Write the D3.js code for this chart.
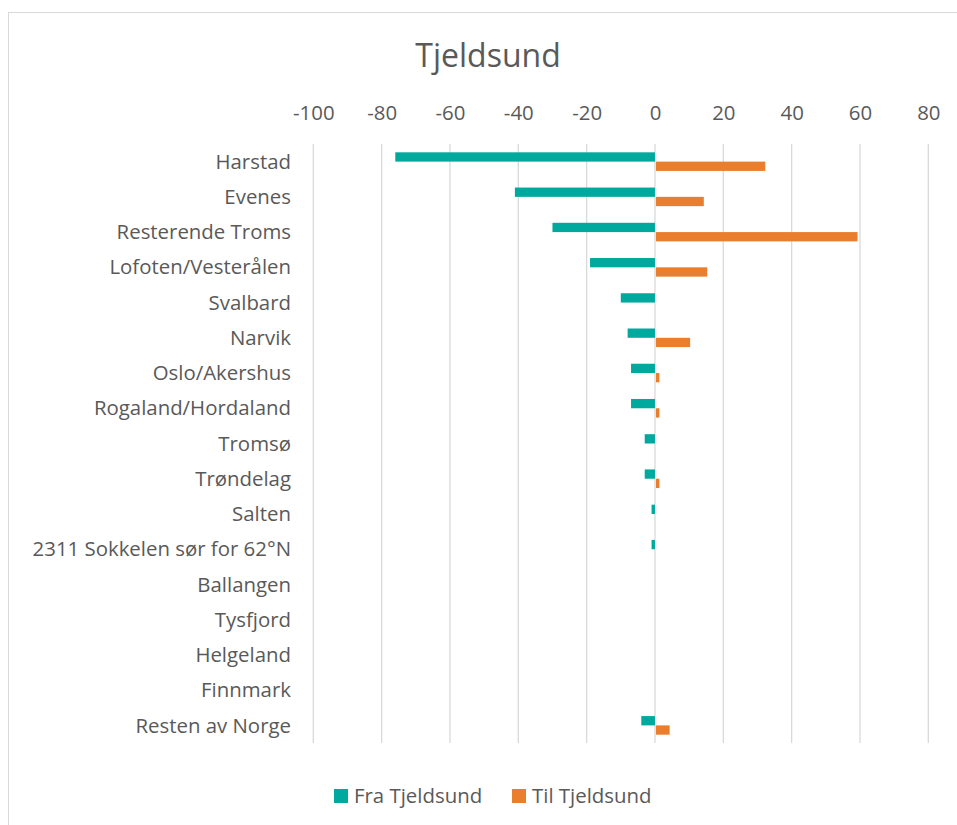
<!DOCTYPE html>
<meta charset="utf-8">
<style>
  body { margin: 0; background: #fff; }
  text { font-family: "Open Sans", sans-serif; fill: #595959; }
</style>
<body>
<script src="https://cdn.jsdelivr.net/npm/d3@7"></script>
<script>
var categories = ["Harstad", "Evenes", "Resterende Troms", "Lofoten/Vesterålen", "Svalbard",
  "Narvik", "Oslo/Akershus", "Rogaland/Hordaland", "Tromsø", "Trøndelag", "Salten",
  "2311 Sokkelen sør for 62°N", "Ballangen", "Tysfjord", "Helgeland", "Finnmark", "Resten av Norge"];
var fraValues = [-76, -41, -30, -19, -10, -8, -7, -7, -3, -3, -1, -1, 0, 0, 0, 0, -4];
var tilValues = [32, 14, 59, 15, 0, 10, 1, 1, 0, 1, 0, 0, 0, 0, 0, 0, 4];
var xTicks = [-100, -80, -60, -40, -20, 0, 20, 40, 60, 80];
var seriesNames = ["Fra Tjeldsund", "Til Tjeldsund"];
var colors = ["#00a99d", "#e87e2e"];

var width = 957, height = 825;
var svg = d3.select("body").append("svg")
    .attr("width", width)
    .attr("height", height);

// chart frame
svg.append("rect")
    .attr("x", 8.5).attr("y", 12.5)
    .attr("width", 1000).attr("height", 1000)
    .attr("fill", "#fff")
    .attr("stroke", "#d9d9d9");

var x = d3.scaleLinear().domain([-100, 80]).range([313.3, 928.3]);
var y = d3.scaleBand().domain(categories).range([144, 743]);

// gridlines
svg.append("g").selectAll("line")
    .data(xTicks)
  .enter().append("line")
    .attr("x1", d => x(d)).attr("x2", d => x(d))
    .attr("y1", 144).attr("y2", 743)
    .attr("stroke", "#d9d9d9")
    .attr("stroke-width", 1.3);

// top axis labels (plain hyphen, like Excel)
var xAxis = svg.append("g")
    .attr("transform", "translate(0,120)")
    .call(d3.axisTop(x).tickValues(xTicks).tickSize(0).tickPadding(0).tickFormat(d => String(d)));
xAxis.select(".domain").remove();
xAxis.selectAll("text")
    .attr("dy", 0)
    .style("font-size", "20.4px")
    .style("font-family", "'Open Sans', sans-serif")
    .attr("fill", "#595959");

// category labels
var yAxis = svg.append("g")
    .attr("transform", "translate(291,0)")
    .call(d3.axisLeft(y).tickSize(0).tickPadding(0));
yAxis.select(".domain").remove();
yAxis.selectAll("text")
    .attr("dy", "0.35em")
    .style("font-size", "20.4px")
    .style("font-family", "'Open Sans', sans-serif")
    .attr("fill", "#595959");

var barH = 9.3;
var mid = d => y(d) + y.bandwidth() / 2;

svg.append("g").selectAll("rect")
    .data(categories)
  .enter().append("rect")
    .attr("x", (d, i) => x(Math.min(0, fraValues[i])))
    .attr("y", d => mid(d) - barH)
    .attr("width", (d, i) => Math.abs(x(fraValues[i]) - x(0)))
    .attr("height", barH)
    .attr("fill", colors[0]);

svg.append("g").selectAll("rect")
    .data(categories)
  .enter().append("rect")
    .attr("x", (d, i) => x(Math.min(0, tilValues[i])) + 1)
    .attr("y", d => mid(d))
    .attr("width", (d, i) => Math.abs(x(tilValues[i]) - x(0)))
    .attr("height", barH)
    .attr("fill", colors[1]);

// title
svg.append("text")
    .attr("x", 488).attr("y", 67)
    .attr("text-anchor", "middle")
    .style("font-size", "32px")
    .text("Tjeldsund");

// legend
var legendX = [334, 512];
var legend = svg.append("g").selectAll("g")
    .data(seriesNames)
  .enter().append("g")
    .attr("transform", (d, i) => "translate(" + legendX[i] + ",789)");
legend.append("rect")
    .attr("width", 14).attr("height", 14)
    .attr("fill", (d, i) => colors[i]);
legend.append("text")
    .attr("x", 20).attr("y", 14)
    .style("font-size", "20.4px")
    .text(d => d);
</script>
</body>
